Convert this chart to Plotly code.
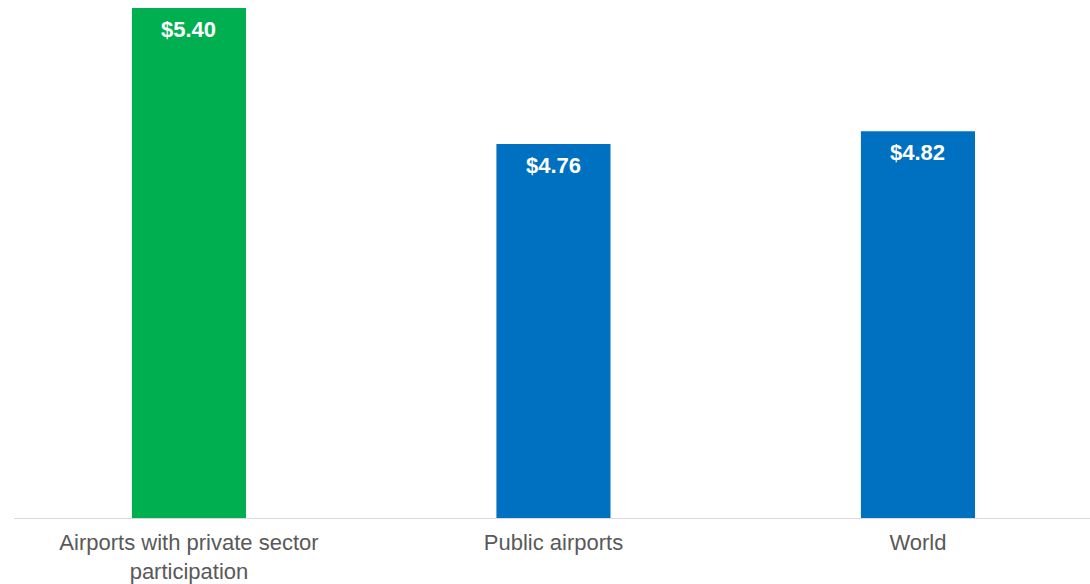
import plotly.graph_objects as go

# Average airport charge per passenger (USD)
categories = ["Airports with private sector<br>participation", "Public airports", "World"]
values = [5.40, 4.76, 4.82]
bar_colors = ["#00B050", "#0070C0", "#0070C0"]
positions = [0, 1, 2]

FONT = "Liberation Sans, Arial, sans-serif"

fig = go.Figure()
fig.add_trace(go.Bar(
    x=positions,
    y=values,
    marker=dict(color=bar_colors, line=dict(width=0)),
    width=0.313,
    hoverinfo="skip",
))

# value labels just inside the top of each bar
for xp, v in zip(positions, values):
    fig.add_annotation(
        x=xp, y=v, xref="x", yref="y",
        text=f"<b>${v:.2f}</b>",
        showarrow=False, yanchor="top", yshift=-7,
        font=dict(family=FONT, size=22, color="white"),
    )

fig.update_layout(
    width=1090, height=584,
    margin=dict(l=14, r=0, t=0, b=66),
    paper_bgcolor="white", plot_bgcolor="white",
    showlegend=False,
    xaxis=dict(
        range=[-0.48, 2.472],
        tickvals=positions, ticktext=categories,
        showgrid=False, zeroline=False,
        showline=True, linecolor="#D9D9D9", linewidth=1,
        ticks="", ticklabelstandoff=5, automargin=False,
        tickfont=dict(family=FONT, size=22, color="#595959"),
    ),
    # value axis starts at 3.0 (truncated), hidden
    yaxis=dict(
        range=[3.0, 5.438],
        visible=False, showgrid=False, zeroline=False,
    ),
)

fig.write_html("out.html")
